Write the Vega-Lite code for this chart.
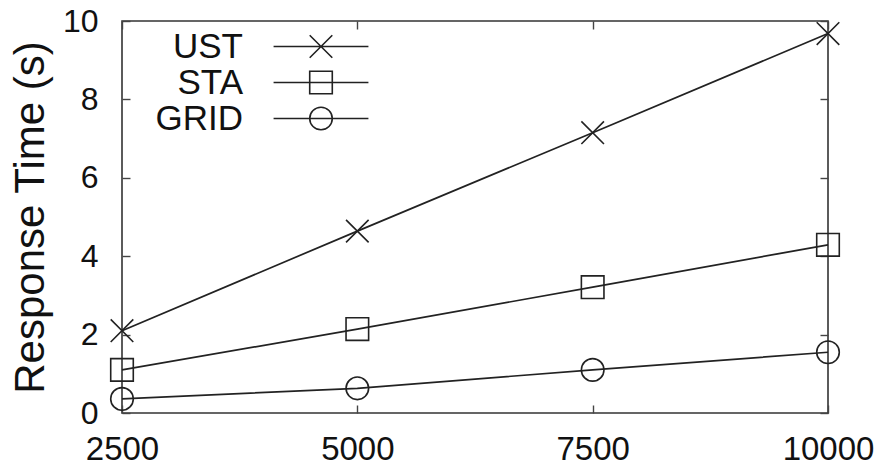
{
  "$schema": "https://vega.github.io/schema/vega-lite/v6.json",
  "autosize": {"type": "none"},
  "width": 706,
  "height": 392,
  "padding": {"left": 122, "top": 21, "right": 50, "bottom": 54},
  "background": "white",
  "config": {
    "font": "Liberation Sans",
    "view": {"stroke": "#333", "strokeWidth": 1.6},
    "axis": {"domain": false, "grid": false, "tickColor": "#444", "tickWidth": 1.4, "labelColor": "#111", "labelFont": "Liberation Sans", "titleFont": "Liberation Sans", "titleColor": "#111", "titleFontWeight": "normal"}
  },
  "data": {
    "values": [
      {"n": 2500, "t": 2.10, "method": "UST"},
      {"n": 5000, "t": 4.64, "method": "UST"},
      {"n": 7500, "t": 7.15, "method": "UST"},
      {"n": 10000, "t": 9.68, "method": "UST"},
      {"n": 2500, "t": 1.10, "method": "STA"},
      {"n": 5000, "t": 2.14, "method": "STA"},
      {"n": 7500, "t": 3.21, "method": "STA"},
      {"n": 10000, "t": 4.29, "method": "STA"},
      {"n": 2500, "t": 0.36, "method": "GRID"},
      {"n": 5000, "t": 0.63, "method": "GRID"},
      {"n": 7500, "t": 1.10, "method": "GRID"},
      {"n": 10000, "t": 1.55, "method": "GRID"}
    ]
  },
  "layer": [
    {
      "layer": [
        {
          "mark": {"type": "line", "stroke": "#222", "strokeWidth": 1.7},
          "encoding": {
            "x": {"field": "n", "type": "quantitative", "scale": {"domain": [2500, 10000], "nice": false, "zero": false},
              "axis": {"values": [2500, 5000, 7500, 10000], "format": "d", "tickSize": -8, "labelPadding": 28, "labelFontSize": 33, "title": null, "labelFlush": false}},
            "y": {"field": "t", "type": "quantitative", "scale": {"domain": [0, 10], "nice": false},
              "axis": {"values": [0, 2, 4, 6, 8, 10], "format": "d", "tickSize": -8, "labelPadding": 32, "labelFontSize": 32, "title": "Response Time (s)", "titleFontSize": 42, "titlePadding": 10}},
            "detail": {"field": "method"}
          }
        },
        {
          "mark": {"type": "point", "filled": false, "size": 510, "stroke": "#222", "strokeWidth": 1.6, "opacity": 1},
          "encoding": {
            "x": {"field": "n", "type": "quantitative"},
            "y": {"field": "t", "type": "quantitative"},
            "shape": {"field": "method", "type": "nominal",
              "scale": {"domain": ["UST", "STA", "GRID"], "range": ["M-1,-1L1,1M-1,1L1,-1", "M-1,-1H1V1H-1Z", "circle"]},
              "legend": null}
          }
        },
        {
          "mark": {"type": "point", "filled": false, "size": 510, "stroke": "#222", "strokeWidth": 1.6, "opacity": 0},
          "encoding": {
            "x": {"field": "n", "type": "quantitative"},
            "y": {"field": "t", "type": "quantitative"},
            "shape": {"field": "method", "type": "nominal",
              "scale": {"domain": ["UST", "STA", "GRID"], "range": ["M-4.2,0H4.2M-1,-1L1,1M-1,1L1,-1", "M-4.2,0H4.2M-1,-1H1V1H-1Z", "M-4.2,0H4.2M1,0A1,1,0,1,1,-1,0A1,1,0,1,1,1,0"]},
              "legend": {"title": null, "orient": "none", "legendX": 181.5, "legendY": 8, "padding": 0,
                "labelAlign": "right", "labelOffset": -95.5, "labelFontSize": 35, "labelColor": "#111", "labelFont": "Liberation Sans",
                "symbolSize": 510, "symbolStrokeWidth": 1.6, "symbolStrokeColor": "#222", "symbolFillColor": "transparent", "symbolOpacity": 1, "rowPadding": 0}}
          }
        }
      ],
      "resolve": {"scale": {"shape": "independent"}}
    },
    {
      "mark": {"type": "point", "opacity": 0},
      "encoding": {
        "x": {"field": "n", "type": "quantitative", "scale": {"domain": [2500, 10000], "nice": false, "zero": false},
          "axis": {"orient": "top", "values": [2500, 5000, 7500, 10000], "tickSize": -8, "labels": false, "title": null}},
        "y": {"field": "t", "type": "quantitative", "scale": {"domain": [0, 10], "nice": false},
          "axis": {"orient": "right", "values": [0, 2, 4, 6, 8, 10], "tickSize": -8, "labels": false, "title": null}}
      }
    }
  ],
  "resolve": {"scale": {"x": "independent", "y": "independent"}}
}
